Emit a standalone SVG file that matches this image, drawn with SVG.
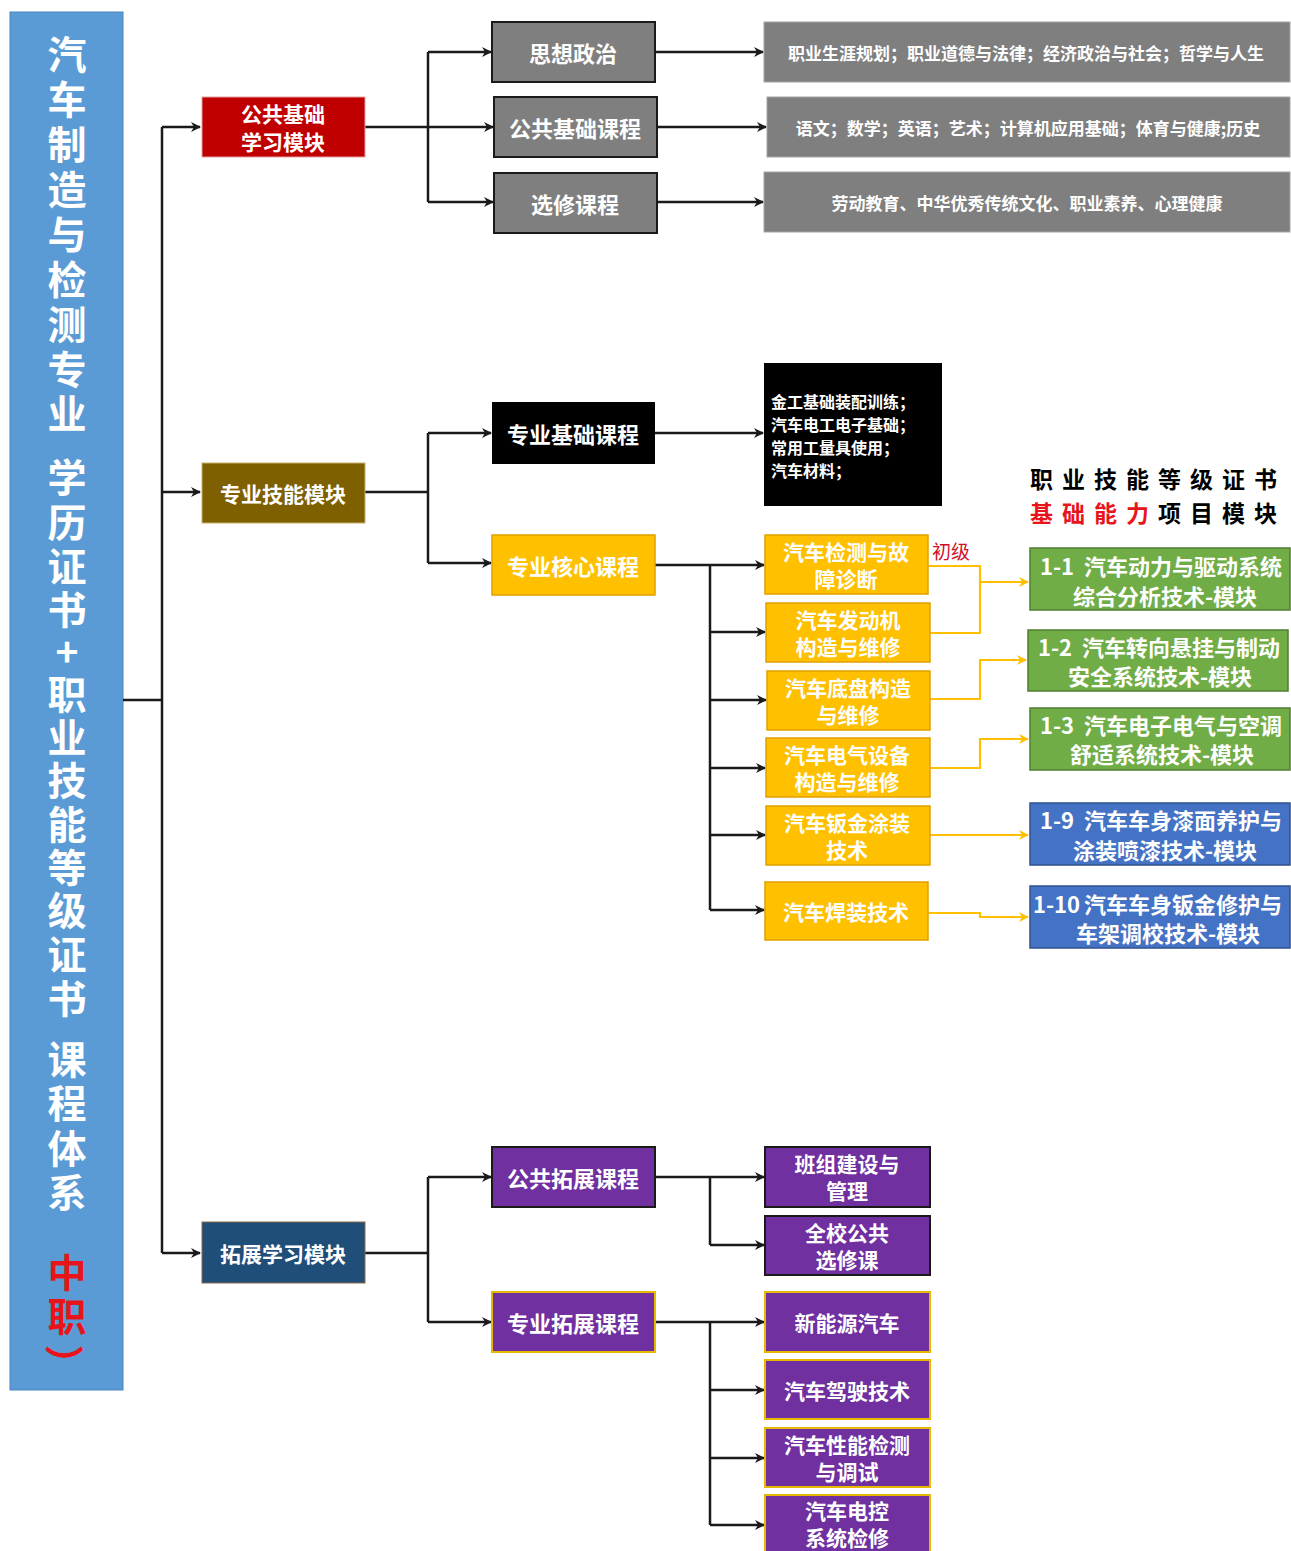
<svg xmlns="http://www.w3.org/2000/svg" width="1291" height="1551" viewBox="0 0 1291 1551">
<style>
text{font-family:"Noto Sans CJK SC","Noto Sans",sans-serif;font-weight:bold;}
.t{fill:#fff;text-anchor:middle;dominant-baseline:central;}
.ttl{font-size:39px;}
.red{fill:#e8141b;}
.l1{font-size:21px;}
.l2{font-size:22px;}
.l3{font-size:17px;}
.y{font-size:21px;}
.cert{font-size:22px;fill:#fff;dominant-baseline:central;}
.conn{fill:none;stroke:#1a1a1a;stroke-width:2.5;}
.yc{fill:none;stroke:#ffc000;stroke-width:2.2;}
.gray{fill:#7f7f7f;stroke:#1a1a1a;stroke-width:2;}
.wgray{fill:#7f7f7f;stroke:#a6a6a6;stroke-width:1;}
.yel{fill:#ffc000;stroke:#e0a000;stroke-width:1.5;}
.pur{fill:#7030a0;stroke:#1a1a1a;stroke-width:2;}
.purg{fill:#7030a0;stroke:#e6b800;stroke-width:2;}
.grn{fill:#70ad47;stroke:#507e32;stroke-width:1.5;}
.blu{fill:#4472c4;stroke:#2f528f;stroke-width:1.5;}
</style>
<defs>
<marker id="ab" viewBox="0 0 10 10" refX="9" refY="5" markerWidth="10" markerHeight="10" markerUnits="userSpaceOnUse" orient="auto">
<path d="M0,0 L10,5 L0,10 L3,5 z" fill="#1a1a1a"/>
</marker>
<marker id="ay" viewBox="0 0 10 10" refX="9" refY="5" markerWidth="10" markerHeight="10" markerUnits="userSpaceOnUse" orient="auto">
<path d="M0,0 L10,5 L0,10 L3,5 z" fill="#ffc000"/>
</marker>
</defs>
<rect width="1291" height="1551" fill="#fff"/>

<g id="title">
<rect x="10" y="12" width="113" height="1378" fill="#5b9bd5" stroke="#4a84c0" stroke-width="1"/>
<text class="t ttl" x="67 67 67 67 67 67 67 67 67 67 67 67 67 67 67 67 67 67 67 67 67 67 67 67 67 67 67 67" y="52 97 142 187 232 277 322 367 411 443 475 520 564 607 650 692 735 778 822 865 908 952 996 1026 1057 1101 1146 1190">汽车制造与检测专业 学历证书+职业技能等级证书 课程体系<tspan x="67 67" y="1270 1314" fill="#e8141b">中职</tspan></text>
<text class="t ttl red" x="67" y="1364" transform="rotate(90 67 1364)">）</text>
</g>

<g id="connectors">
<path class="conn" d="M123,700 H162 M162,127 V1253"/>
<path class="conn" d="M162,127 H200" marker-end="url(#ab)"/>
<path class="conn" d="M162,492 H200" marker-end="url(#ab)"/>
<path class="conn" d="M162,1253 H200" marker-end="url(#ab)"/>

<path class="conn" d="M365,127 H428 M428,52 V202"/>
<path class="conn" d="M428,52 H491" marker-end="url(#ab)"/>
<path class="conn" d="M428,127 H493" marker-end="url(#ab)"/>
<path class="conn" d="M428,202 H493" marker-end="url(#ab)"/>

<path class="conn" d="M365,492 H428 M428,433 V563"/>
<path class="conn" d="M428,433 H491" marker-end="url(#ab)"/>
<path class="conn" d="M428,563 H491" marker-end="url(#ab)"/>

<path class="conn" d="M365,1253 H428 M428,1177 V1322"/>
<path class="conn" d="M428,1177 H491" marker-end="url(#ab)"/>
<path class="conn" d="M428,1322 H491" marker-end="url(#ab)"/>

<path class="conn" d="M655,52 H763" marker-end="url(#ab)"/>
<path class="conn" d="M657,127 H766" marker-end="url(#ab)"/>
<path class="conn" d="M657,202 H763" marker-end="url(#ab)"/>
<path class="conn" d="M655,433 H763" marker-end="url(#ab)"/>

<path class="conn" d="M655,565 H710 M710,565 V910"/>
<path class="conn" d="M710,565 H764" marker-end="url(#ab)"/>
<path class="conn" d="M710,632 H765" marker-end="url(#ab)"/>
<path class="conn" d="M710,700 H766" marker-end="url(#ab)"/>
<path class="conn" d="M710,768 H765" marker-end="url(#ab)"/>
<path class="conn" d="M710,835 H765" marker-end="url(#ab)"/>
<path class="conn" d="M710,910 H764" marker-end="url(#ab)"/>

<path class="conn" d="M655,1177 H710 M710,1177 V1245"/>
<path class="conn" d="M710,1177 H764" marker-end="url(#ab)"/>
<path class="conn" d="M710,1245 H764" marker-end="url(#ab)"/>

<path class="conn" d="M655,1322 H710 M710,1322 V1525"/>
<path class="conn" d="M710,1322 H764" marker-end="url(#ab)"/>
<path class="conn" d="M710,1390 H764" marker-end="url(#ab)"/>
<path class="conn" d="M710,1458 H764" marker-end="url(#ab)"/>
<path class="conn" d="M710,1525 H764" marker-end="url(#ab)"/>

<path class="yc" d="M928,566 H980 V633 H930"/>
<path class="yc" d="M980,582 H1028" marker-end="url(#ay)"/>
<path class="yc" d="M930,699 H980 V660 H1026" marker-end="url(#ay)"/>
<path class="yc" d="M930,768 H980 V739 H1028" marker-end="url(#ay)"/>
<path class="yc" d="M930,835 H1028" marker-end="url(#ay)"/>
<path class="yc" d="M928,913 H980 V917 H1028" marker-end="url(#ay)"/>
</g>

<g id="n-public-module"><rect x="202" y="97" width="163" height="60" fill="#c00000" stroke="#e8a0a0" stroke-width="1"/>
<text class="t l1" x="283" y="113">公共基础</text><text class="t l1" x="283" y="141">学习模块</text></g>
<g id="n-skill-module"><rect x="202" y="463" width="163" height="60" fill="#7f6000" stroke="#c9b06a" stroke-width="1"/>
<text class="t l1" x="283" y="493">专业技能模块</text></g>
<g id="n-ext-module"><rect x="202" y="1222" width="163" height="61" fill="#1f4e79" stroke="#8a6a4a" stroke-width="1"/>
<text class="t l1" x="283" y="1253">拓展学习模块</text></g>

<g id="n-sxzz"><rect class="gray" x="492" y="22" width="163" height="60"/><text class="t l2" x="573" y="52">思想政治</text></g>
<g id="n-ggjc"><rect class="gray" x="494" y="97" width="163" height="60"/><text class="t l2" x="575" y="127">公共基础课程</text></g>
<g id="n-xx"><rect class="gray" x="494" y="173" width="163" height="60"/><text class="t l2" x="575" y="203">选修课程</text></g>

<g id="n-sxzz-list"><rect class="wgray" x="764" y="22" width="526" height="60"/><text class="t l3" x="1026" y="52">职业生涯规划；职业道德与法律；经济政治与社会；哲学与人生</text></g>
<g id="n-ggjc-list"><rect class="wgray" x="767" y="97" width="523" height="60"/><text class="t l3" x="1028" y="127">语文；数学；英语；艺术；计算机应用基础；体育与健康;历史</text></g>
<g id="n-xx-list"><rect class="wgray" x="764" y="172" width="526" height="60"/><text class="t l3" x="1027" y="202">劳动教育、中华优秀传统文化、职业素养、心理健康</text></g>

<g id="n-zyjc"><rect x="492" y="402" width="163" height="62" fill="#000"/><text class="t l2" x="573" y="433">专业基础课程</text></g>
<g id="n-zyjc-list"><rect x="764" y="363" width="178" height="143" fill="#000"/>
<g style="font-size:16px;fill:#fff;dominant-baseline:central">
<text x="771" y="401">金工基础装配训练；</text><text x="771" y="424">汽车电工电子基础；</text><text x="771" y="447">常用工量具使用；</text><text x="771" y="470">汽车材料；</text></g></g>

<g id="n-zyhx"><rect class="yel" x="492" y="535" width="163" height="60"/><text class="t l2" x="573" y="565">专业核心课程</text></g>

<g id="n-c1"><rect class="yel" x="765" y="535" width="163" height="59"/><text class="t y" x="846" y="551">汽车检测与故</text><text class="t y" x="846" y="578">障诊断</text></g>
<text x="932" y="550" style="font-size:19px;fill:#d0102a;dominant-baseline:central;font-weight:normal">初级</text>
<g id="n-c2"><rect class="yel" x="766" y="603" width="164" height="59"/><text class="t y" x="848" y="619">汽车发动机</text><text class="t y" x="848" y="646">构造与维修</text></g>
<g id="n-c3"><rect class="yel" x="767" y="671" width="163" height="59"/><text class="t y" x="848" y="687">汽车底盘构造</text><text class="t y" x="848" y="714">与维修</text></g>
<g id="n-c4"><rect class="yel" x="766" y="738" width="164" height="59"/><text class="t y" x="847" y="754">汽车电气设备</text><text class="t y" x="847" y="781">构造与维修</text></g>
<g id="n-c5"><rect class="yel" x="766" y="806" width="164" height="59"/><text class="t y" x="847" y="822">汽车钣金涂装</text><text class="t y" x="847" y="849">技术</text></g>
<g id="n-c6"><rect class="yel" x="765" y="882" width="163" height="58"/><text class="t y" x="846" y="911">汽车焊装技术</text></g>

<g id="cert-title" style="font-size:23px;letter-spacing:9px;dominant-baseline:central">
<text x="1030" y="478" fill="#000">职业技能等级证书</text>
<text x="1030" y="512"><tspan fill="#e8141b">基础能力</tspan><tspan fill="#000">项目模块</tspan></text>
</g>

<g id="n-m11"><rect class="grn" x="1030" y="548" width="260" height="62"/>
<text class="cert" x="1040" y="565">1-1<tspan dx="10">汽车动力与驱动系统</tspan></text><text class="t cert" x="1165" y="595" text-anchor="middle">综合分析技术-模块</text></g>
<g id="n-m12"><rect class="grn" x="1028" y="630" width="260" height="61"/>
<text class="cert" x="1038" y="646">1-2<tspan dx="10">汽车转向悬挂与制动</tspan></text><text class="t cert" x="1160" y="675">安全系统技术-模块</text></g>
<g id="n-m13"><rect class="grn" x="1030" y="708" width="260" height="62"/>
<text class="cert" x="1040" y="724">1-3<tspan dx="10">汽车电子电气与空调</tspan></text><text class="t cert" x="1162" y="753">舒适系统技术-模块</text></g>
<g id="n-m19"><rect class="blu" x="1030" y="803" width="260" height="62"/>
<text class="cert" x="1040" y="819">1-9<tspan dx="10">汽车车身漆面养护与</tspan></text><text class="t cert" x="1165" y="849">涂装喷漆技术-模块</text></g>
<g id="n-m110"><rect class="blu" x="1030" y="886" width="260" height="62"/>
<text class="cert" x="1033" y="903">1-10<tspan dx="4">汽车车身钣金修护与</tspan></text><text class="t cert" x="1168" y="932">车架调校技术-模块</text></g>

<g id="n-ggtz"><rect class="pur" x="492" y="1147" width="163" height="60"/><text class="t l2" x="573" y="1177">公共拓展课程</text></g>
<g id="n-p1"><rect class="pur" x="765" y="1147" width="165" height="60"/><text class="t y" x="847" y="1163">班组建设与</text><text class="t y" x="847" y="1190">管理</text></g>
<g id="n-p2"><rect class="pur" x="765" y="1216" width="165" height="59"/><text class="t y" x="847" y="1232">全校公共</text><text class="t y" x="847" y="1259">选修课</text></g>

<g id="n-zytz"><rect class="purg" x="492" y="1292" width="163" height="60"/><text class="t l2" x="573" y="1322">专业拓展课程</text></g>
<g id="n-e1"><rect class="purg" x="765" y="1292" width="165" height="60"/><text class="t y" x="847" y="1322">新能源汽车</text></g>
<g id="n-e2"><rect class="purg" x="765" y="1360" width="165" height="59"/><text class="t y" x="847" y="1390">汽车驾驶技术</text></g>
<g id="n-e3"><rect class="purg" x="765" y="1428" width="165" height="59"/><text class="t y" x="847" y="1444">汽车性能检测</text><text class="t y" x="847" y="1471">与调试</text></g>
<g id="n-e4"><rect class="purg" x="765" y="1495" width="165" height="60"/><text class="t y" x="847" y="1510">汽车电控</text><text class="t y" x="847" y="1537">系统检修</text></g>
</svg>
